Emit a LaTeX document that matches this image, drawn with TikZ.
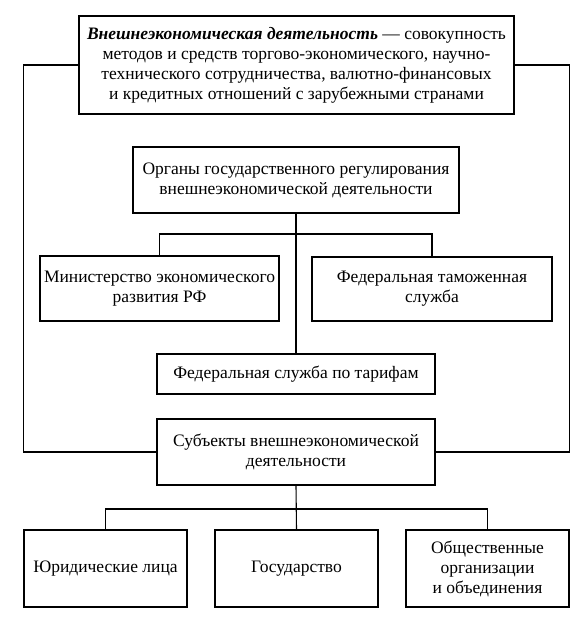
\documentclass[tikz,border=0pt]{standalone}
\usepackage{fontspec}
\setmainfont{Liberation Serif}
\begin{document}
\begin{tikzpicture}[x=1pt,y=-1pt,
  box/.style={draw,line width=1.1pt,align=center,inner sep=1pt,
    font=\fontsize{17.5}{20}\selectfont},
  conn/.style={line width=1.1pt}]
\useasboundingbox (0,0) rectangle (587,635);
\node[box,minimum width=435pt,minimum height=98pt] (top) at (296.5,65)
  {\textbf{\textit{Внешнеэкономическая деятельность}} — совокупность\\
   методов и средств торгово-экономического, научно-\\
   технического сотрудничества, валютно-финансовых\\
   и кредитных отношений с зарубежными странами};
\node[box,minimum width=326pt,minimum height=66pt] (org) at (296,180)
  {Органы государственного регулирования\\внешнеэкономической деятельности};
\node[box,minimum width=239pt,minimum height=65pt] (min) at (159.5,288.5)
  {Министерство экономического\\развития РФ};
\node[box,minimum width=240pt,minimum height=64pt] (cus) at (432,289)
  {Федеральная таможенная\\служба};
\node[box,minimum width=278pt,minimum height=40pt] (tar) at (296,374)
  {Федеральная служба по тарифам};
\node[box,minimum width=278pt,minimum height=66pt] (sub) at (296,452)
  {Субъекты внешнеэкономической\\деятельности};
\node[box,minimum width=163pt,minimum height=77pt] (b1) at (105.5,568.5)
  {Юридические лица};
\node[box,minimum width=163pt,minimum height=77pt] (b2) at (296.5,568.5)
  {Государство};
\node[box,minimum width=163pt,minimum height=77pt] (b3) at (487.5,568.5)
  {Общественные\\организации\\и объединения};
\coordinate (br1) at (296,234);
\coordinate (br2) at (296.5,509);
\draw[conn] (top.west) -- ++(-55,0) |- (sub.west);
\draw[conn] (top.east) -- ++(55,0) |- (sub.east);
\draw[conn] (org.south) -- (tar.north);
\draw[conn] (min.north) |- (br1) -| (cus.north);
\draw[conn] (sub.south) -- (b2.north);
\draw[conn] (b1.north) |- (br2) -| (b3.north);
\end{tikzpicture}
\end{document}
